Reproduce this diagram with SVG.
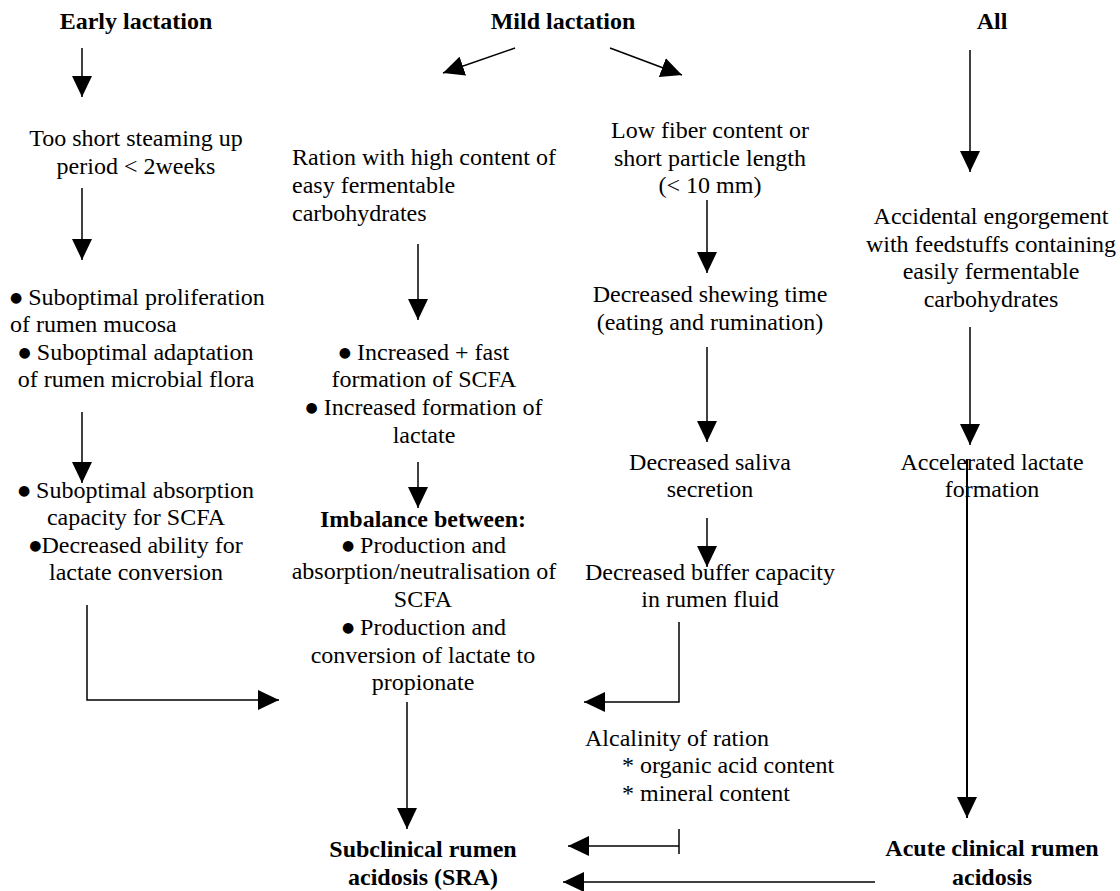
<svg xmlns="http://www.w3.org/2000/svg" width="1120" height="891" viewBox="0 0 1120 891">
<style>
text{font-family:"Liberation Serif","Times New Roman",serif;font-size:24px;fill:#000}
.c{text-anchor:middle}
.b{font-weight:bold}
.bl{font-family:"DejaVu Sans",sans-serif;font-size:14px}
.ln{fill:none;stroke:#000;stroke-width:1.5;marker-end:url(#ah)}
.pl{fill:none;stroke:#000;stroke-width:1.5}
</style>
<defs>
<marker id="ah" markerUnits="userSpaceOnUse" markerWidth="22" markerHeight="20" refX="21" refY="10" orient="auto">
<path d="M0,0 L21,10 L0,20 z" fill="#000"/>
</marker>
</defs>
<rect width="1120" height="891" fill="#fff"/>

<g id="early"><text class="c b" x="136" y="29">Early lactation</text></g>
<g id="mild"><text class="c b" x="563" y="29">Mild lactation</text></g>
<g id="all"><text class="c b" x="992" y="29">All</text></g>

<g id="steaming">
<text class="c" x="136" y="146">Too short steaming up</text>
<text class="c" x="136" y="174">period &lt; 2weeks</text>
</g>
<g id="suboptimal1">
<text x="10" y="305"><tspan class="bl" dy="-3">●</tspan><tspan dy="3"> Suboptimal proliferation</tspan></text>
<text x="10" y="332">of rumen mucosa</text>
<text class="c" x="136" y="360"><tspan class="bl" dy="-3">●</tspan><tspan dy="3"> Suboptimal adaptation</tspan></text>
<text class="c" x="136" y="387">of rumen microbial flora</text>
</g>
<g id="suboptimal2">
<text class="c" x="136" y="498"><tspan class="bl" dy="-3">●</tspan><tspan dy="3"> Suboptimal absorption</tspan></text>
<text class="c" x="136" y="525">capacity for SCFA</text>
<text class="c" x="136" y="553"><tspan class="bl" dy="-3">●</tspan><tspan dy="3">Decreased ability for</tspan></text>
<text class="c" x="136" y="580">lactate conversion</text>
</g>

<g id="ration">
<text x="292" y="165">Ration with high content of</text>
<text x="292" y="193">easy fermentable</text>
<text x="292" y="221">carbohydrates</text>
</g>
<g id="increased">
<text class="c" x="424" y="360"><tspan class="bl" dy="-3">●</tspan><tspan dy="3"> Increased + fast</tspan></text>
<text class="c" x="424" y="387">formation of SCFA</text>
<text class="c" x="424" y="415"><tspan class="bl" dy="-3">●</tspan><tspan dy="3"> Increased formation of</tspan></text>
<text class="c" x="424" y="443">lactate</text>
</g>
<g id="imbalance">
<text class="c b" x="423" y="527">Imbalance between:</text>
<text class="c" x="424" y="553"><tspan class="bl" dy="-3">●</tspan><tspan dy="3"> Production and</tspan></text>
<text class="c" x="424" y="579">absorption/neutralisation of</text>
<text class="c" x="423" y="607">SCFA</text>
<text class="c" x="424" y="635"><tspan class="bl" dy="-3">●</tspan><tspan dy="3"> Production and</tspan></text>
<text class="c" x="423" y="663">conversion of lactate to</text>
<text class="c" x="423" y="690">propionate</text>
</g>
<g id="sra">
<text class="c b" x="423" y="857">Subclinical rumen</text>
<text class="c b" x="423" y="885">acidosis (SRA)</text>
</g>

<g id="lowfiber">
<text class="c" x="710" y="138">Low fiber content or</text>
<text class="c" x="710" y="166">short particle length</text>
<text class="c" x="710" y="193">(&lt; 10 mm)</text>
</g>
<g id="shewing">
<text class="c" x="710" y="302">Decreased shewing time</text>
<text class="c" x="710" y="330">(eating and rumination)</text>
</g>
<g id="saliva">
<text class="c" x="710" y="470">Decreased saliva</text>
<text class="c" x="710" y="497">secretion</text>
</g>
<g id="buffer">
<text class="c" x="710" y="580">Decreased buffer capacity</text>
<text class="c" x="710" y="607">in rumen fluid</text>
</g>
<g id="alcalinity">
<text x="585" y="746">Alcalinity of ration</text>
<text x="622" y="773">* organic acid content</text>
<text x="622" y="801">* mineral content</text>
</g>

<g id="engorgement">
<text class="c" x="991" y="224">Accidental engorgement</text>
<text class="c" x="991" y="252">with feedstuffs containing</text>
<text class="c" x="991" y="279">easily fermentable</text>
<text class="c" x="991" y="307">carbohydrates</text>
</g>
<g id="accelerated">
<text class="c" x="992" y="470">Accelerated lactate</text>
<text class="c" x="992" y="497">formation</text>
</g>
<g id="acute">
<text class="c b" x="992" y="856">Acute clinical rumen</text>
<text class="c b" x="992" y="885">acidosis</text>
</g>

<g id="connectors">
<line class="ln" x1="82" y1="48" x2="82" y2="97"/>
<line class="ln" x1="82" y1="188" x2="82" y2="260"/>
<line class="ln" x1="82" y1="412" x2="82" y2="483"/>
<path class="ln" d="M87,605 V700 H279"/>
<line class="ln" x1="515" y1="48" x2="443" y2="73"/>
<line class="ln" x1="610" y1="48" x2="682" y2="75"/>
<line class="ln" x1="418" y1="244" x2="418" y2="320"/>
<line class="ln" x1="418" y1="462" x2="418" y2="508"/>
<line class="ln" x1="407" y1="702" x2="407" y2="829"/>
<line class="ln" x1="707" y1="200" x2="707" y2="273"/>
<line class="ln" x1="707" y1="347" x2="707" y2="442"/>
<line class="ln" x1="707" y1="518" x2="707" y2="567"/>
<path class="ln" d="M679,622 V702 H584"/>
<line class="pl" x1="679" y1="829" x2="679" y2="854"/>
<line class="ln" x1="679" y1="846" x2="568" y2="846"/>
<line class="ln" x1="875" y1="882" x2="563" y2="882"/>
<line class="ln" x1="970" y1="50" x2="970" y2="172"/>
<line class="ln" x1="970" y1="327" x2="970" y2="445"/>
<line class="ln" x1="967" y1="459" x2="967" y2="818" style="stroke-width:2"/>
</g>
</svg>
